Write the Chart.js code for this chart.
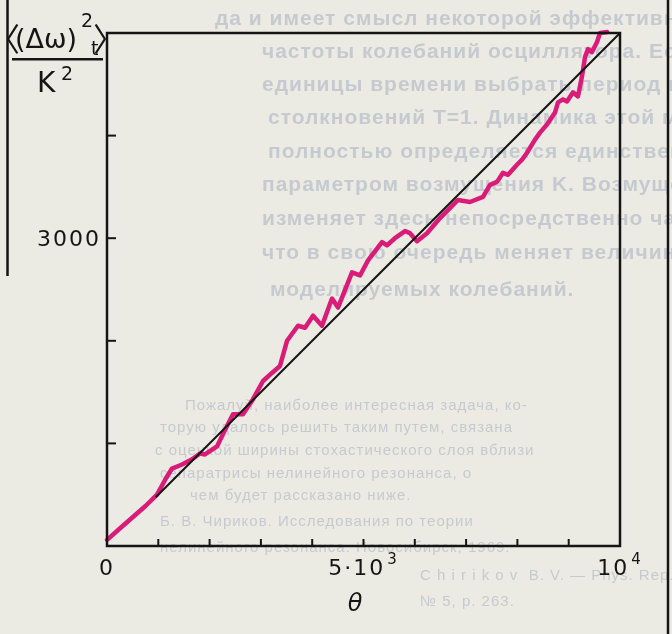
<!DOCTYPE html>
<html lang="ru">
<head>
<meta charset="utf-8">
<title>Диффузия частоты</title>
<script src="https://cdn.jsdelivr.net/npm/chart.js@4.4.0/dist/chart.umd.min.js"></script>
<style>
    html, body { margin: 0; padding: 0; background: #ecebe3; }
    #wrap { width: 672px; height: 634px; }
</style>
</head>
<body>
<div id="wrap"><canvas id="chart" width="672" height="634"></canvas></div>
<script>
// Curve: theta (x) and <(dw)^2_t> in K^2 (y)
const thetaValues = [0, 250, 500, 750, 975, 1150, 1267, 1462, 1650, 1813,
    1910, 2144, 2300, 2456, 2651, 2846, 3041, 3200, 3372, 3509,
    3723, 3860, 4016, 4191, 4386, 4503, 4776, 4932, 5088, 5361,
    5458, 5614, 5809, 5906, 6043, 6238, 6491, 6842, 7076, 7329,
    7466, 7602, 7719, 7817, 7992, 8090, 8187, 8343, 8441, 8577,
    8733, 8791, 8889, 8967, 9084, 9181, 9259, 9318, 9376, 9454,
    9552, 9610, 9750];
const omegaValues = [60, 170, 280, 390, 500, 660, 755, 794, 843, 902,
    892, 970, 1130, 1284, 1284, 1431, 1608, 1680, 1755, 2000,
    2147, 2127, 2245, 2147, 2412, 2324, 2667, 2637, 2784, 2961,
    2931, 3000, 3069, 3049, 2971, 3049, 3196, 3373, 3353, 3402,
    3520, 3549, 3637, 3618, 3716, 3765, 3833, 3961, 4029, 4108,
    4225, 4324, 4353, 4333, 4422, 4382, 4578, 4765, 4843, 4814,
    4912, 5000, 5010];

// Straight theoretical line
const lineTheta = [950, 10000];
const lineOmega = [475, 5000];

// Ticks and labels
const xTickValues = [1000, 2000, 3000, 4000, 5000, 6000, 7000, 8000, 9000];
const yTickValues = [1000, 2000, 3000, 4000];
const xLabelValues = [0, 5000, 10000];
const xLabelBases = ['0', '5·10', '10'];
const xLabelSups = ['', '3', '4'];
const yLabelValues = [3000];
const yLabelTexts = ['3000'];

// Faint text of the printed page showing through
const pageTextBig = [
    [215, 25, 'да и имеет смысл некоторой эффективной'],
    [262, 58, 'частоты колебаний осциллятора. Если за'],
    [262, 91, 'единицы времени выбрать период между'],
    [268, 124, 'столкновений T=1. Динамика этой модели'],
    [268, 158, 'полностью определяется единственным'],
    [262, 191, 'параметром возмущения K. Возмущение'],
    [262, 225, 'изменяет здесь непосредственно частоту,'],
    [262, 259, 'что в свою очередь меняет величину'],
    [270, 296, 'моделируемых колебаний.']
];
const pageTextSmall = [
    [185, 410, 'Пожалуй, наиболее интересная задача, ко-'],
    [160, 432, 'торую удалось решить таким путем, связана'],
    [155, 455, 'с оценкой ширины стохастического слоя вблизи'],
    [160, 478, 'сепаратрисы нелинейного резонанса, о'],
    [190, 500, 'чем будет рассказано ниже.'],
    [160, 526, 'Б. В. Чириков. Исследования по теории'],
    [160, 552, 'нелинейного резонанса. Новосибирск, 1969.'],
    [420, 580, 'C h i r i k o v  B. V. — Phys. Rep. 1979,'],
    [420, 606, '№ 5, p. 263.']
];

const INK = '#151515';
const FONT = '"DejaVu Sans", sans-serif';

const pagePlugin = {
    id: 'page',
    beforeDraw(chart) {
        const ctx = chart.ctx;
        ctx.save();
        ctx.fillStyle = '#ecebe3';
        ctx.fillRect(0, 0, chart.width, chart.height);
        ctx.fillStyle = '#c6cad0';
        ctx.font = 'bold 21px "Liberation Sans", sans-serif';
        ctx.letterSpacing = '1px';
        pageTextBig.forEach(l => ctx.fillText(l[2], l[0], l[1]));
        ctx.font = '15px "Liberation Sans", sans-serif';
        pageTextSmall.forEach(l => ctx.fillText(l[2], l[0], l[1]));
        ctx.restore();
    },
    afterDraw(chart) {
        const ctx = chart.ctx;
        const a = chart.chartArea;
        const x = chart.scales.x;
        const y = chart.scales.y;
        ctx.save();
        ctx.strokeStyle = INK;
        ctx.fillStyle = INK;

        // frame
        ctx.lineWidth = 2.5;
        ctx.strokeRect(a.left, a.top, a.right - a.left, a.bottom - a.top);

        // inward ticks
        ctx.lineWidth = 2;
        xTickValues.forEach(v => {
            const px = x.getPixelForValue(v);
            ctx.beginPath();
            ctx.moveTo(px, a.bottom);
            ctx.lineTo(px, a.bottom - 7);
            ctx.stroke();
        });
        yTickValues.forEach(v => {
            const py = y.getPixelForValue(v);
            ctx.beginPath();
            ctx.moveTo(a.left, py);
            ctx.lineTo(a.left + 9, py);
            ctx.stroke();
        });

        // tick labels
        ctx.letterSpacing = '2px';
        ctx.textBaseline = 'alphabetic';
        ctx.textAlign = 'right';
        ctx.font = '22px ' + FONT;
        yLabelValues.forEach((v, i) => {
            ctx.fillText(yLabelTexts[i], a.left - 6, y.getPixelForValue(v) + 8);
        });
        ctx.textAlign = 'left';
        xLabelValues.forEach((v, i) => {
            ctx.font = '22px ' + FONT;
            const wb = ctx.measureText(xLabelBases[i]).width;
            ctx.font = '15px ' + FONT;
            const ws = xLabelSups[i] ? ctx.measureText(xLabelSups[i]).width + 2 : 0;
            const x0 = x.getPixelForValue(v) - (wb + ws) / 2;
            ctx.font = '22px ' + FONT;
            ctx.fillText(xLabelBases[i], x0, a.bottom + 29);
            if (xLabelSups[i]) {
                ctx.font = '15px ' + FONT;
                ctx.fillText(xLabelSups[i], x0 + wb + 2, a.bottom + 18);
            }
        });

        // x axis title
        ctx.letterSpacing = '0px';
        ctx.textAlign = 'center';
        ctx.font = 'italic 24px ' + FONT;
        ctx.fillText('θ', 355, 611);

        // y axis title as a fraction
        ctx.textAlign = 'left';
        ctx.font = '32px "Noto Sans CJK SC", sans-serif';
        ctx.fillText('〈', -12, 51);
        ctx.fillText('〉', 93, 51);
        ctx.font = '27px ' + FONT;
        ctx.fillText('(Δω)', 15, 48);
        ctx.font = '19px ' + FONT;
        ctx.fillText('2', 81, 27);
        ctx.fillText('t', 91, 55);
        ctx.fillRect(12, 58, 91, 2.5);
        ctx.font = '28px ' + FONT;
        ctx.fillText('K', 37, 92);
        ctx.font = '19px ' + FONT;
        ctx.fillText('2', 61, 80);

        // edges of the neighbouring figure on the scan
        ctx.lineWidth = 2.5;
        ctx.beginPath();
        ctx.moveTo(7.5, 0);
        ctx.lineTo(7.5, 276);
        ctx.moveTo(668, 0);
        ctx.lineTo(668, 634);
        ctx.stroke();
        ctx.restore();
    }
};

new Chart(document.getElementById('chart'), {
    type: 'line',
    data: {
        datasets: [
            {
                label: 'теория',
                data: lineTheta.map((t, i) => ({ x: t, y: lineOmega[i] })),
                borderColor: INK,
                borderWidth: 2,
                pointRadius: 0,
                tension: 0
            },
            {
                label: 'счёт',
                data: thetaValues.map((t, i) => ({ x: t, y: omegaValues[i] })),
                borderColor: '#da1c78',
                borderWidth: 4.5,
                borderJoinStyle: 'round',
                borderCapStyle: 'round',
                pointRadius: 0,
                tension: 0,
                clip: 6
            }
        ]
    },
    options: {
        responsive: false,
        animation: false,
        events: [],
        layout: { padding: { left: 0, top: 33, right: 52, bottom: 0 } },
        plugins: {
            legend: { display: false },
            tooltip: { enabled: false }
        },
        scales: {
            x: {
                type: 'linear',
                min: 0,
                max: 10000,
                grid: { display: false },
                border: { display: false },
                ticks: { display: false },
                afterFit: s => { s.height = 88; }
            },
            y: {
                type: 'linear',
                min: 0,
                max: 5000,
                grid: { display: false },
                border: { display: false },
                ticks: { display: false },
                afterFit: s => { s.width = 107; }
            }
        }
    },
    plugins: [pagePlugin]
});
</script>
</body>
</html>
